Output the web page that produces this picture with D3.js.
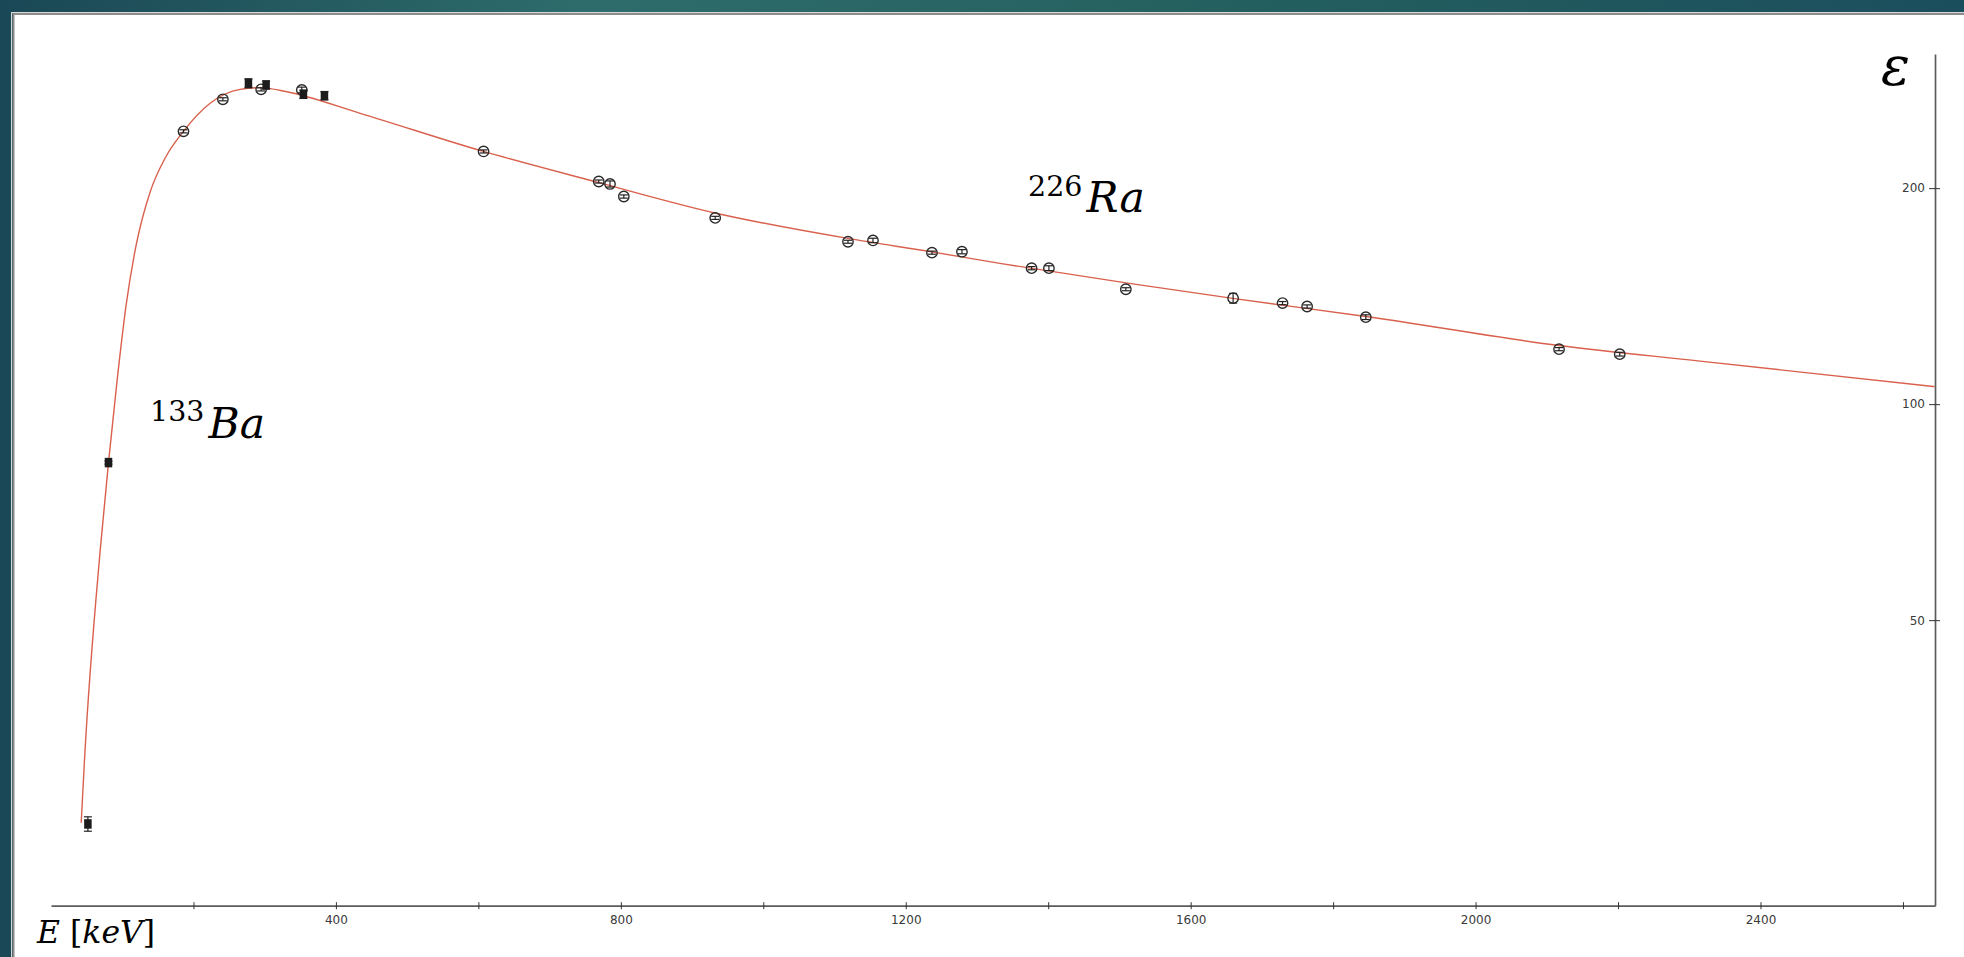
<!DOCTYPE html>
<html>
<head>
<meta charset="utf-8">
<script src="https://cdn.jsdelivr.net/npm/d3@7"></script>
<style>
body { margin: 0; overflow: hidden; background: #1b4b58; }
</style>
</head>
<body>
<script>
// 133Ba calibration lines (filled squares)
var baEnergy = [51.8, 80.7, 277.2, 302.0, 354.4, 383.9];
var baEff    = [26.0, 82.9, 280.0, 278.5, 270.3, 269.1];
var baErr    = [0.6, 0.4, 4.0, 3.5, 3.5, 3.5];

// 226Ra lines (open circles)
var raEnergy = [186.0, 241.3, 295.0, 352.1, 607.3, 769.0, 784.8, 804.2, 932.5, 1118.9, 1154.0,
                1236.8, 1278.9, 1376.7, 1401.0, 1509.0, 1659.6, 1729.0, 1763.5, 1845.9, 2117.2, 2202.4];
var raEff    = [240.0, 266.0, 274.6, 274.1, 225.0, 204.3, 202.7, 194.7, 181.8, 168.4, 169.1,
                162.6, 163.1, 154.7, 154.7, 144.6, 140.5, 138.3, 136.8, 132.2, 119.3, 117.4];
var raErr    = [1.2, 1.3, 1.4, 2.5, 1.1, 1.0, 2.0, 1.0, 0.9, 0.8, 1.2,
                0.8, 1.1, 0.8, 1.2, 0.7, 2.2, 0.7, 0.7, 1.0, 0.6, 0.7];

// fitted efficiency curve
var fitEnergy = [42.4, 47.0, 69.1, 80.7, 92.9, 105.5, 119.6, 139.2, 160.3, 186.0, 223.4, 265.5, 293.6,
                 331.1, 434.0, 607.3, 769.0, 932.2, 1118.9, 1236.8, 1332.2, 1509.0, 1659.2, 1846.0,
                 2117.0, 2315.0, 2644.5];
var fitEff    = [26.1, 31.9, 62.6, 82.9, 108.1, 137.5, 166.7, 197.6, 220.3, 240.0, 262.6, 274.6, 276.1,
                 272.5, 254.3, 225.0, 203.6, 184.7, 170.2, 163.0, 157.1, 147.6, 140.4, 132.5,
                 120.7, 114.8, 105.8];

var xTicks = [200, 400, 600, 800, 1000, 1200, 1400, 1600, 1800, 2000, 2200, 2400, 2600];
var yTicks = [50, 100, 200];

var W = 1964, H = 957;
var serif = "'DejaVu Serif', 'Liberation Serif', serif";
var sans = "'DejaVu Sans', sans-serif";

var svg = d3.select("body").append("svg").attr("width", W).attr("height", H);

//#region BACKGROUND
var defs = svg.append("defs");
var grad = defs.append("linearGradient").attr("id", "bg").attr("x1", 0).attr("y1", 0).attr("x2", 1).attr("y2", 0);
grad.append("stop").attr("offset", "0%").attr("stop-color", "#1a4856");
grad.append("stop").attr("offset", "30%").attr("stop-color", "#2e6c6b");
grad.append("stop").attr("offset", "60%").attr("stop-color", "#25615f");
grad.append("stop").attr("offset", "100%").attr("stop-color", "#1b4e5d");
svg.append("rect").attr("width", W).attr("height", H).attr("fill", "url(#bg)");

svg.append("rect")
    .attr("x", 11.5).attr("y", 12.5).attr("width", W).attr("height", H)
    .attr("fill", "none").attr("stroke", "#d8d8d8").attr("stroke-width", 1);
svg.append("rect")
    .attr("x", 13.5).attr("y", 14).attr("width", W).attr("height", H)
    .attr("fill", "#ffffff").attr("stroke", "#8c8c8c").attr("stroke-width", 2);

//#region SCALES
var x = d3.scaleLinear().domain([0, 2645]).range([51, 1935]);
var y = d3.scaleLog().domain([20, 307.6]).range([905.7, 54]);

//#region AXES
var xAxis = svg.append("g")
    .attr("transform", "translate(0,905.7)")
    .call(d3.axisBottom(x).tickValues(xTicks).tickSizeOuter(0)
        .tickFormat(function(d){ return d % 400 == 0 ? d : ""; }));
xAxis.select(".domain").attr("stroke", "#5c5c5c").attr("stroke-width", 1.7);
xAxis.selectAll(".tick line").attr("y1", -3.5).attr("y2", 3.5).attr("stroke", "#333");
xAxis.selectAll(".tick text")
    .attr("y", 18.5).attr("dy", 0)
    .style("font-family", sans).style("font-size", "12px").attr("fill", "#3a3a3a");

var yAxis = svg.append("g")
    .attr("transform", "translate(1935,0)")
    .call(d3.axisLeft(y).tickValues(yTicks).tickSizeOuter(0).tickFormat(d3.format("d")));
yAxis.select(".domain").attr("stroke", "#5c5c5c").attr("stroke-width", 1.7);
yAxis.selectAll(".tick line").attr("x1", 5).attr("x2", -6).attr("stroke", "#333");
yAxis.selectAll(".tick text")
    .attr("x", -10)
    .style("font-family", sans).style("font-size", "12px").attr("fill", "#3a3a3a");

//#region FIT CURVE
var fit = fitEnergy.map(function(e, i){ return [e, fitEff[i]]; });
var line = d3.line()
    .x(function(d){ return x(d[0]); })
    .y(function(d){ return y(d[1]); })
    .curve(d3.curveMonotoneX);

svg.append("path")
    .datum(fit)
    .attr("d", line)
    .attr("fill", "none")
    .attr("stroke", "#d9604c")
    .attr("stroke-width", 1.4);

//#region POINTS
var ba = baEnergy.map(function(e, i){ return {e: e, v: baEff[i], err: baErr[i]}; });
var ra = raEnergy.map(function(e, i){ return {e: e, v: raEff[i], err: raErr[i]}; });

function errorBars(data, cls){
    var gErr = svg.append("g").attr("class", cls)
        .attr("stroke", "#222").attr("stroke-width", 1.2);
    gErr.selectAll(".bar").data(data).enter().append("line")
        .attr("x1", function(d){ return x(d.e); })
        .attr("x2", function(d){ return x(d.e); })
        .attr("y1", function(d){ return y(d.v - d.err); })
        .attr("y2", function(d){ return y(d.v + d.err); });
    gErr.selectAll(".capLow").data(data).enter().append("line")
        .attr("x1", function(d){ return x(d.e) - 4; })
        .attr("x2", function(d){ return x(d.e) + 4; })
        .attr("y1", function(d){ return y(d.v - d.err); })
        .attr("y2", function(d){ return y(d.v - d.err); });
    gErr.selectAll(".capHigh").data(data).enter().append("line")
        .attr("x1", function(d){ return x(d.e) - 4; })
        .attr("x2", function(d){ return x(d.e) + 4; })
        .attr("y1", function(d){ return y(d.v + d.err); })
        .attr("y2", function(d){ return y(d.v + d.err); });
}

errorBars(ra, "raErr");
svg.append("g").selectAll("circle").data(ra).enter().append("circle")
    .attr("cx", function(d){ return x(d.e); })
    .attr("cy", function(d){ return y(d.v); })
    .attr("r", 5.2)
    .attr("fill", "none")
    .attr("stroke", "#2a2a2a")
    .attr("stroke-width", 1.4);

errorBars(ba, "baErr");
svg.append("g").selectAll("rect").data(ba).enter().append("rect")
    .attr("x", function(d){ return x(d.e) - 3.75; })
    .attr("y", function(d){ return y(d.v) - 4.75; })
    .attr("width", 7.5)
    .attr("height", 9.5)
    .attr("fill", "#1c1c1c");

//#region LABELS
function isotope(xm, ym, mass, sym){
    var t = svg.append("text").style("font-family", serif).attr("fill", "#000");
    t.append("tspan").attr("x", xm).attr("y", ym).style("font-size", "28.5px").text(mass);
    t.append("tspan").attr("dx", 4).attr("y", ym + 16.5).style("font-size", "42.5px")
        .style("font-style", "italic").text(sym);
}
isotope(150, 421, "133", "Ba");
isotope(1028, 195.5, "226", "Ra");

svg.append("text")
    .attr("x", 1881).attr("y", 85)
    .style("font-family", serif).style("font-size", "54px").style("font-style", "italic")
    .text("ε");

var eLab = svg.append("text").attr("x", 37).attr("y", 943.3)
    .style("font-family", serif).style("font-size", "31.5px");
eLab.append("tspan").style("font-style", "italic").text("E");
eLab.append("tspan").text(" [");
eLab.append("tspan").style("font-style", "italic").text("keV");
eLab.append("tspan").text("]");
</script>
</body>
</html>
